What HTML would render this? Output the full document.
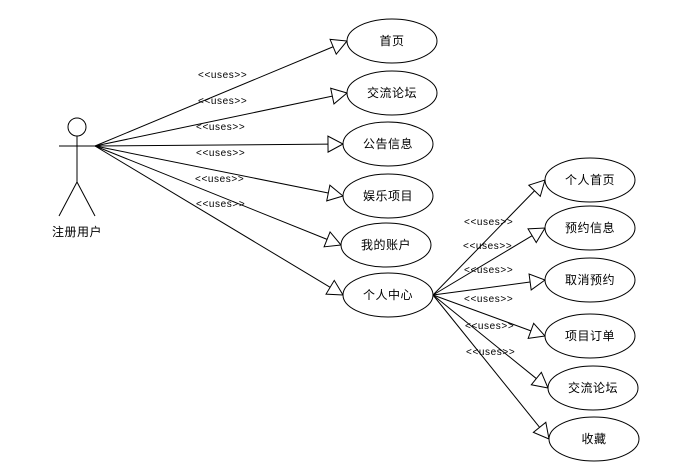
<!DOCTYPE html>
<html><head><meta charset="utf-8"><style>
html,body{margin:0;padding:0;background:#fff;width:699px;height:472px;overflow:hidden}
svg text{font-family:"Liberation Sans","Noto Sans CJK SC",sans-serif;fill:#000}
</style></head><body>
<svg id="s" width="699" height="472" viewBox="0 0 699 472" xmlns="http://www.w3.org/2000/svg">
<g stroke="#000" stroke-width="1" fill="none">
<circle cx="77" cy="127" r="9"/>
<line x1="77" y1="136" x2="77" y2="182"/>
<line x1="59" y1="146" x2="95" y2="146"/>
<line x1="77" y1="182" x2="59" y2="216"/>
<line x1="77" y1="182" x2="95" y2="216"/>
</g>
<text x="77" y="236" font-size="12" text-anchor="middle" letter-spacing="0.5">注册用户</text>
<g id="g" stroke="#000" stroke-width="1" fill="#fff"></g>
<g font-size="10" id="lbl" letter-spacing="0.6">
<text x="198" y="78">&lt;&lt;uses&gt;&gt;</text>
<text x="198" y="104">&lt;&lt;uses&gt;&gt;</text>
<text x="196" y="130">&lt;&lt;uses&gt;&gt;</text>
<text x="196" y="156">&lt;&lt;uses&gt;&gt;</text>
<text x="195" y="182">&lt;&lt;uses&gt;&gt;</text>
<text x="196" y="207">&lt;&lt;uses&gt;&gt;</text>
<text x="464" y="225">&lt;&lt;uses&gt;&gt;</text>
<text x="463" y="249">&lt;&lt;uses&gt;&gt;</text>
<text x="464" y="273">&lt;&lt;uses&gt;&gt;</text>
<text x="464" y="302">&lt;&lt;uses&gt;&gt;</text>
<text x="465" y="329">&lt;&lt;uses&gt;&gt;</text>
<text x="466" y="355">&lt;&lt;uses&gt;&gt;</text>
</g>
</svg>
<script>
var NS="http://www.w3.org/2000/svg",g=document.getElementById('g'),s=document.getElementById('s');
function el(t,a,p){var e=document.createElementNS(NS,t);for(var k in a)e.setAttribute(k,a[k]);(p||g).appendChild(e);return e;}
var L=[[392,41,"首页"],[392,93,"交流论坛"],[388,144,"公告信息"],[388,196,"娱乐项目"],[386,245,"我的账户"],[388,295,"个人中心"]];
var R=[[590,180,"个人首页"],[590,228,"预约信息"],[590,280,"取消预约"],[590,336,"项目订单"],[593,388,"交流论坛"],[594,439,"收藏"]];
function conn(x0,y0,e){
  var tx=e[0]-45,ty=e[1];
  var dx=tx-x0,dy=ty-y0,d=Math.hypot(dx,dy),ux=dx/d,uy=dy/d;
  var bx=tx-ux*15,by=ty-uy*15,px=-uy*8,py=ux*8;
  el('line',{x1:x0,y1:y0,x2:bx,y2:by});
  el('polygon',{points:tx+','+ty+' '+(bx+px)+','+(by+py)+' '+(bx-px)+','+(by-py)});
}
L.forEach(function(e){conn(95,146,e)});
R.forEach(function(e){conn(433,295,e)});
L.concat(R).forEach(function(e){
  el('ellipse',{cx:e[0],cy:e[1],rx:45,ry:22});
  var t=el('text',{x:e[0],y:e[1]+4,'font-size':12,'text-anchor':'middle','letter-spacing':0.5,stroke:'none',fill:'#000'},s);
  t.textContent=e[2];
});
</script>
</body></html>
